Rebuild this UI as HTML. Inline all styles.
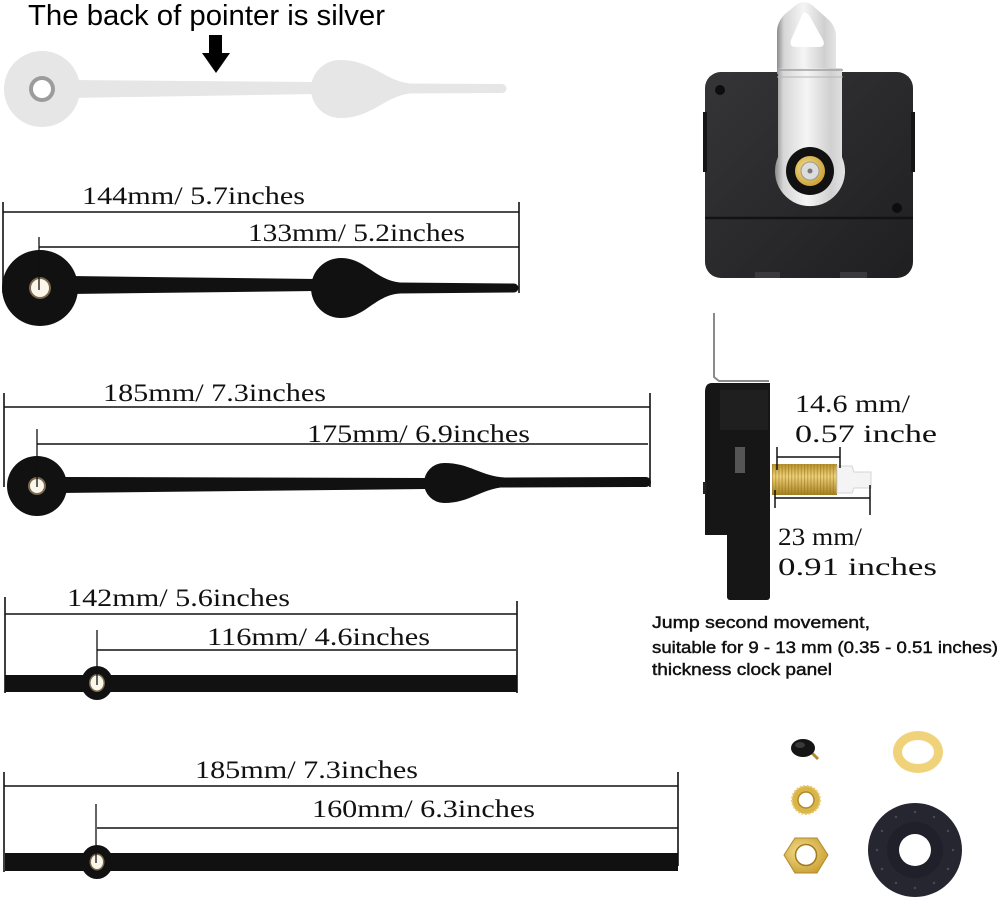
<!DOCTYPE html>
<html>
<head>
<meta charset="utf-8">
<style>
html,body{margin:0;padding:0;background:#fff;}
svg{display:block;}
.dim{font-family:"Liberation Serif","Noto Serif CJK SC",serif;font-size:25px;fill:#111;}
.cap{font-family:"Liberation Sans",sans-serif;font-size:17px;fill:#111;stroke:#111;stroke-width:0.45px;}
</style>
</head>
<body>
<svg width="1000" height="899" viewBox="0 0 1000 899" xmlns="http://www.w3.org/2000/svg">
<defs>
  <linearGradient id="strap" x1="0" y1="0" x2="1" y2="0">
    <stop offset="0" stop-color="#8c8c8c"/>
    <stop offset="0.12" stop-color="#d6d6d6"/>
    <stop offset="0.45" stop-color="#f5f5f5"/>
    <stop offset="0.8" stop-color="#d0d0d0"/>
    <stop offset="1" stop-color="#e4e4e4"/>
  </linearGradient>
  <linearGradient id="body" x1="0" y1="0" x2="1" y2="1">
    <stop offset="0" stop-color="#353538"/>
    <stop offset="1" stop-color="#1f1f21"/>
  </linearGradient>
  <linearGradient id="gold" x1="0" y1="0" x2="0" y2="1">
    <stop offset="0" stop-color="#b8922e"/>
    <stop offset="0.4" stop-color="#f0d27a"/>
    <stop offset="1" stop-color="#a5801f"/>
  </linearGradient>
  <radialGradient id="goldr" cx="0.4" cy="0.4" r="0.7">
    <stop offset="0" stop-color="#f6e08e"/>
    <stop offset="1" stop-color="#c69a2c"/>
  </radialGradient>
  <pattern id="thread" x="772" y="0" width="3.2" height="10" patternUnits="userSpaceOnUse">
    <rect x="0" y="0" width="1.1" height="10" fill="#8a6a18" opacity="0.45"/>
  </pattern>
</defs>

<!-- ===== Title + silver hand ===== -->
<text x="28" y="25" font-family="Liberation Sans, sans-serif" font-size="29" fill="#000" textLength="357" lengthAdjust="spacingAndGlyphs">The back of pointer is silver</text>
<path d="M209 35 H222 V53 H230 L216 73 L202 53 H209 Z" fill="#000"/>

<g fill="#e6e6e6">
  <circle cx="42" cy="89" r="38"/>
  <path d="M70 80 L314 82 L314 94 L70 98 Z"/>
  <path d="M410 83.5 C385 81 372 60 340 60 A29 29 0 0 0 340 118 C372 118 385 96 410 93.5 Z"/>
  <path d="M405 83.5 L502 84 A4.5 4.5 0 0 1 502 93 L405 93.5 Z"/>
</g>
<circle cx="42" cy="89" r="13" fill="#9c9c9c"/>
<circle cx="42" cy="89" r="9" fill="#fff"/>

<!-- ===== Hand 2 : 144 / 133 ===== -->
<g fill="#111">
  <circle cx="40" cy="288" r="38"/>
  <path d="M70 276 L316 279 L316 291 L70 294 Z"/>
  <path d="M400 282.5 C375 280 365 258 341 258 A30 30 0 0 0 341 318 C365 318 375 295 400 293.5 Z"/>
  <path d="M398 282.5 L514 283.5 A4.5 4.5 0 0 1 514 292.5 L398 293.5 Z"/>
</g>
<circle cx="40" cy="288" r="11" fill="#7a6a50"/>
<circle cx="40" cy="288" r="9" fill="#fbf6ea"/>

<g stroke="#111" stroke-width="1.6" fill="none">
  <line x1="3" y1="212" x2="519" y2="212"/>
  <line x1="3" y1="202" x2="3" y2="293"/>
  <line x1="519" y1="202" x2="519" y2="293"/>
  <line x1="39" y1="247" x2="519" y2="247"/>
  <line x1="39" y1="237" x2="39" y2="290" stroke-width="1.3"/>
</g>
<text class="dim" x="82" y="204" textLength="223" lengthAdjust="spacingAndGlyphs">144mm/ 5.7inches</text>
<text class="dim" x="248" y="241" textLength="217" lengthAdjust="spacingAndGlyphs">133mm/ 5.2inches</text>

<!-- ===== Hand 3 : 185 / 175 ===== -->
<g fill="#111">
  <circle cx="37" cy="486" r="30"/>
  <path d="M60 477 L426 478 L426 489 L60 493 Z"/>
  <path d="M505 477.5 C480 476 470 463 444 463 A20 20 0 0 0 444 503 C470 503 480 489 505 487 Z"/>
  <path d="M500 477.5 L646 477 A5 5 0 0 1 646 487 L500 487.5 Z"/>
</g>
<circle cx="37" cy="486" r="9" fill="#7a6a50"/>
<circle cx="37" cy="486" r="7" fill="#fbf6ea"/>

<g stroke="#111" stroke-width="1.6" fill="none">
  <line x1="4" y1="407" x2="650" y2="407"/>
  <line x1="4" y1="393" x2="4" y2="487"/>
  <line x1="650" y1="393" x2="650" y2="487"/>
  <line x1="37" y1="444" x2="648" y2="444"/>
  <line x1="37" y1="429" x2="37" y2="487" stroke-width="1.3"/>
</g>
<text class="dim" x="103" y="401" textLength="223" lengthAdjust="spacingAndGlyphs">185mm/ 7.3inches</text>
<text class="dim" x="307" y="442" textLength="223" lengthAdjust="spacingAndGlyphs">175mm/ 6.9inches</text>

<!-- ===== Hand 4 : 142 / 116 ===== -->
<rect x="5" y="675" width="512" height="17" fill="#111"/>
<ellipse cx="97" cy="683" rx="16" ry="17" fill="#111"/>
<ellipse cx="97" cy="683" rx="8" ry="9" fill="#7a6a50"/>
<ellipse cx="97" cy="683" rx="6.5" ry="7.5" fill="#fbf6ea"/>

<g stroke="#111" stroke-width="1.6" fill="none">
  <line x1="5" y1="614" x2="517" y2="614"/>
  <line x1="5" y1="597" x2="5" y2="693"/>
  <line x1="517" y1="601" x2="517" y2="693"/>
  <line x1="97" y1="650" x2="516" y2="650"/>
  <line x1="97" y1="630" x2="97" y2="685" stroke-width="1.3"/>
</g>
<text class="dim" x="67" y="606" textLength="223" lengthAdjust="spacingAndGlyphs">142mm/ 5.6inches</text>
<text class="dim" x="207" y="645" textLength="223" lengthAdjust="spacingAndGlyphs">116mm/ 4.6inches</text>

<!-- ===== Hand 5 : 185 / 160 ===== -->
<rect x="5" y="853" width="673" height="18" fill="#111"/>
<ellipse cx="97" cy="862" rx="16" ry="17" fill="#111"/>
<ellipse cx="97" cy="862" rx="7.5" ry="8.5" fill="#7a6a50"/>
<ellipse cx="97" cy="862" rx="6" ry="7" fill="#fbf6ea"/>

<g stroke="#111" stroke-width="1.6" fill="none">
  <line x1="4" y1="786" x2="678" y2="786"/>
  <line x1="4" y1="772" x2="4" y2="872"/>
  <line x1="678" y1="772" x2="678" y2="866"/>
  <line x1="97" y1="828" x2="678" y2="828"/>
  <line x1="96" y1="804" x2="96" y2="863" stroke-width="1.3"/>
</g>
<text class="dim" x="195" y="778" textLength="223" lengthAdjust="spacingAndGlyphs">185mm/ 7.3inches</text>
<text class="dim" x="312" y="817" textLength="223" lengthAdjust="spacingAndGlyphs">160mm/ 6.3inches</text>

<!-- ===== Top right: movement front ===== -->
<rect x="705" y="72" width="208" height="206" rx="16" fill="url(#body)"/>
<line x1="705" y1="218" x2="913" y2="218" stroke="#121212" stroke-width="2.5"/>
<rect x="703" y="112" width="4" height="60" fill="#151515"/>
<rect x="911" y="112" width="4" height="60" fill="#151515"/>
<rect x="755" y="272" width="25" height="6" fill="#3a3a3c"/>
<rect x="840" y="272" width="27" height="6" fill="#3a3a3c"/>
<circle cx="720" cy="90" r="5" fill="#0d0d0d"/>
<circle cx="897" cy="208" r="5" fill="#0d0d0d"/>
<!-- hanger -->
<path d="M777 74 L777 32 Q777 22 785 14 L796 5 Q804 -1 812 5 L830 21 Q836 28 836 36 L836 74 Z" fill="url(#strap)"/>
<path d="M803 13 Q806 12 809 15 L823 40 Q826 47 818 47 L796 47 Q789 47 791 40 Z" fill="#fff"/>
<!-- strap -->
<path d="M778 68 H842 V157 A35 35 0 1 1 778 157 Z" fill="url(#strap)"/>
<line x1="777" y1="70" x2="843" y2="70" stroke="#a0a0a0" stroke-width="1.5"/>
<line x1="777" y1="77" x2="843" y2="77" stroke="#b5b5b5" stroke-width="1"/>
<circle cx="810" cy="171" r="24" fill="#111"/>
<circle cx="810" cy="171" r="15" fill="url(#goldr)"/>
<circle cx="810" cy="171" r="9" fill="#dcdcdc" stroke="#999" stroke-width="1"/>
<circle cx="810" cy="171" r="2.5" fill="#777"/>

<!-- ===== Side view ===== -->
<polyline points="714,313 714,377 719,381 769,381" fill="none" stroke="#8a8a8a" stroke-width="2"/>
<path d="M712 383 H770 V535 H705 V392 Q705 383 712 383 Z" fill="#161616"/>
<rect x="727" y="500" width="43" height="100" rx="3" fill="#161616"/>
<rect x="720" y="390" width="48" height="40" fill="#1f1f1f"/>
<rect x="735" y="447" width="10" height="26" fill="#555"/>
<rect x="703" y="482" width="3" height="12" fill="#222"/>
<rect x="772" y="464" width="65" height="31" fill="url(#gold)"/>
<rect x="772" y="464" width="65" height="31" fill="url(#thread)"/>
<path d="M837 466 H852 L854 472 H871 V488 H854 L852 493 H837 Z" fill="#f4f4f4" stroke="#d5d5d5" stroke-width="1"/>

<g stroke="#111" stroke-width="1.5" fill="none">
  <line x1="777" y1="457" x2="840" y2="457"/>
  <line x1="777" y1="447" x2="777" y2="470"/>
  <line x1="840" y1="447" x2="840" y2="468"/>
  <line x1="775" y1="498" x2="870" y2="498"/>
  <line x1="775" y1="490" x2="775" y2="508"/>
  <line x1="870" y1="485" x2="870" y2="515"/>
</g>
<text class="dim" x="795" y="412" textLength="115" lengthAdjust="spacingAndGlyphs">14.6 mm/</text>
<text class="dim" x="795" y="442" textLength="142" lengthAdjust="spacingAndGlyphs">0.57 inche</text>
<text class="dim" x="778" y="545" textLength="84" lengthAdjust="spacingAndGlyphs">23 mm/</text>
<text class="dim" x="778" y="575" textLength="159" lengthAdjust="spacingAndGlyphs">0.91 inches</text>

<!-- caption -->
<text class="cap" x="652" y="628" textLength="218" lengthAdjust="spacingAndGlyphs">Jump second movement,</text>
<text class="cap" x="652" y="653" textLength="346" lengthAdjust="spacingAndGlyphs">suitable for 9 - 13 mm (0.35 - 0.51 inches)</text>
<text class="cap" x="652" y="675" textLength="180" lengthAdjust="spacingAndGlyphs">thickness clock panel</text>

<!-- ===== Accessories ===== -->
<line x1="811" y1="752" x2="818" y2="759" stroke="#b08a2a" stroke-width="3"/>
<ellipse cx="803" cy="748" rx="12" ry="9" fill="#151515"/>
<ellipse cx="800" cy="745" rx="5" ry="3" fill="#3a3a3a"/>

<circle cx="806" cy="800" r="14" fill="#d9b54a" stroke="#e8cc6e" stroke-width="2" stroke-dasharray="2 1.5"/>
<circle cx="806" cy="800" r="8" fill="#fff" stroke="#b08a2a" stroke-width="1.5"/>

<path d="M795 838 L817 838 L828 855 L817 873 L795 873 L784 855 Z" fill="url(#goldr)" stroke="#b08a2a" stroke-width="1"/>
<circle cx="806" cy="855" r="10.5" fill="#fff" stroke="#a07a1e" stroke-width="1.5"/>

<ellipse cx="918" cy="752" rx="25" ry="21" fill="#f0d27a"/>
<ellipse cx="918" cy="752" rx="16" ry="12" fill="#fff"/>

<circle cx="915" cy="850" r="47" fill="#262630"/>
<circle cx="915" cy="850" r="28" fill="#20202a"/>
<circle cx="915" cy="850" r="16" fill="#fff"/>
<g fill="#4a4a58">
  <circle cx="915" cy="812" r="1.2"/><circle cx="934" cy="817" r="1.2"/><circle cx="948" cy="831" r="1.2"/>
  <circle cx="953" cy="850" r="1.2"/><circle cx="948" cy="869" r="1.2"/><circle cx="934" cy="883" r="1.2"/>
  <circle cx="915" cy="888" r="1.2"/><circle cx="896" cy="883" r="1.2"/><circle cx="882" cy="869" r="1.2"/>
  <circle cx="877" cy="850" r="1.2"/><circle cx="882" cy="831" r="1.2"/><circle cx="896" cy="817" r="1.2"/>
</g>
</svg>
</body>
</html>
